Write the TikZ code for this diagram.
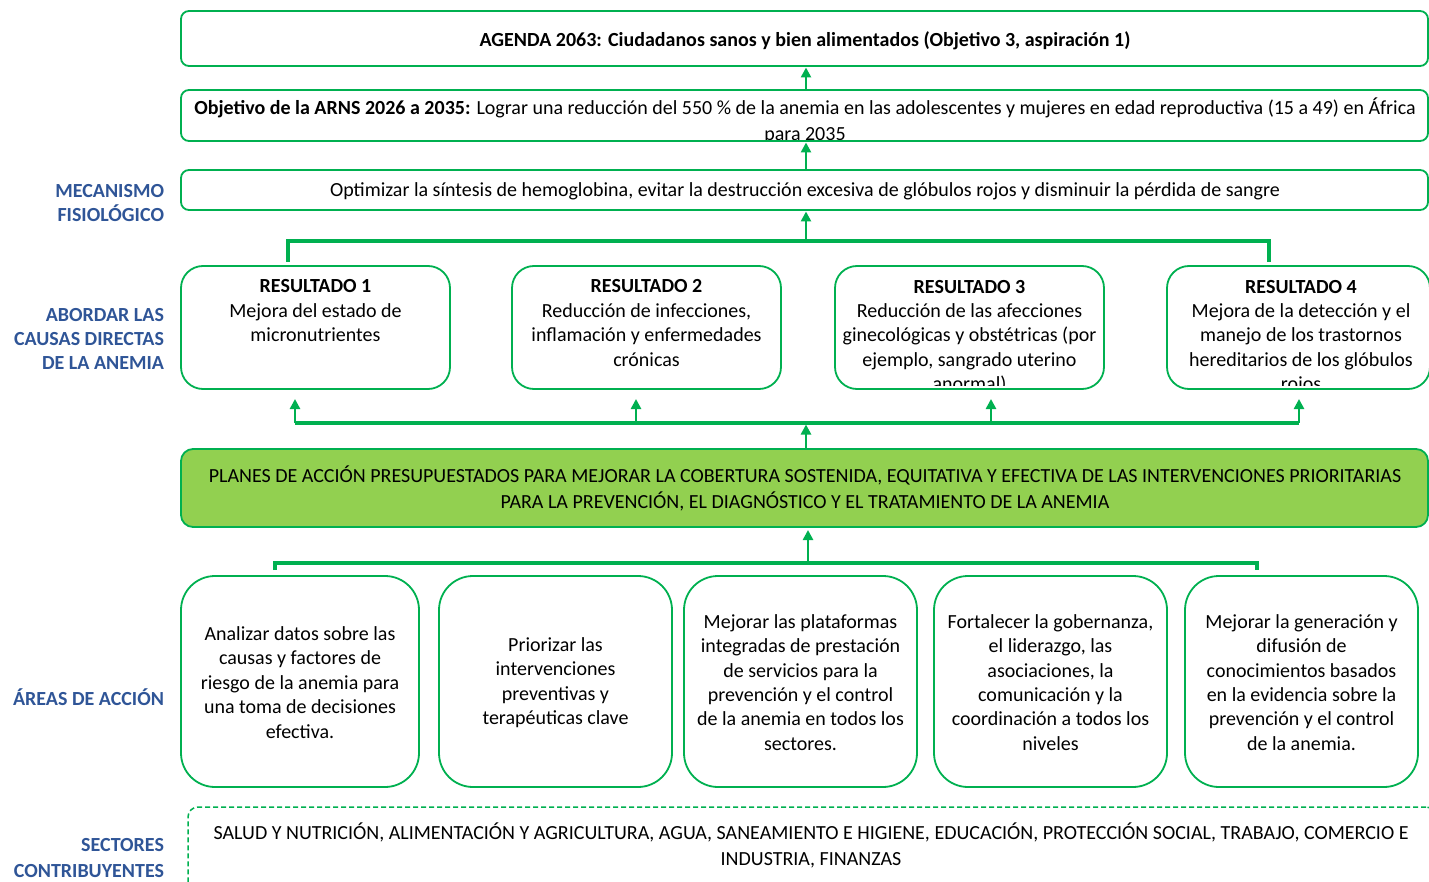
\documentclass[tikz,border=0pt]{standalone}
\usepackage{fontspec}
\setmainfont{Carlito}
\usetikzlibrary{arrows.meta,calc}
\definecolor{agreen}{HTML}{00B050}
\definecolor{lgreen}{HTML}{92D050}
\definecolor{lblue}{HTML}{2F5597}
\newcommand{\dfsz}{\fontsize{20}{24.4}\selectfont}
\begin{document}
\begin{tikzpicture}[x=1pt,y=-1pt,
  every node/.style={inner sep=0pt, outer sep=0pt},
  txt/.style={font=\dfsz, align=center},
  btxt/.style={font=\dfsz\bfseries, align=center},
  lbl/.style={font=\dfsz\bfseries, text=lblue, align=right, anchor=east},
  wbox/.style={draw=agreen, line width=1.8pt, rounded corners=8pt, fill=white},
  rbox/.style={draw=agreen, line width=1.8pt, rounded corners=22pt, minimum width=269pt, minimum height=123pt},
  abox/.style={draw=agreen, line width=1.8pt, rounded corners=34pt, minimum width=233pt, minimum height=211pt},
  pbox/.style={draw=agreen, line width=1.8pt, rounded corners=12pt, fill=lgreen, minimum width=1247pt, minimum height=78pt},
  sbox/.style={draw=agreen, line width=1.5pt, dash pattern=on 5pt off 3pt, rounded corners=10pt, minimum width=1248pt, minimum height=88pt},
  conn/.style={draw=agreen, line width=3.5pt},
  arr/.style={draw=agreen, line width=2.6pt, -{Triangle[width=10pt,length=10pt]}},
]
\useasboundingbox (0,0) rectangle (1429,882);

% ---------- top boxes ----------
\node[wbox, minimum width=1247pt, minimum height=55pt] (agenda) at (804.5,38.5) {};
\node[btxt, anchor=base] (agendat) at (805,46.5) {AGENDA 2063: Ciudadanos sanos y bien alimentados (Objetivo 3, aspiración 1)};

\node[wbox, minimum width=1247pt, minimum height=51pt] (obj) at (804.5,115.5) {};
\begin{scope}
  \clip (182,91) rectangle (1427,140);
  \node[txt, anchor=base] (objt) at (805,140.5) {\textbf{Objetivo de la ARNS 2026 a 2035:} Lograr una reducción del 550 \% de la anemia en las adolescentes y mujeres en edad reproductiva (15 a 49) en África\\[1.6pt] para 2035};
\end{scope}

\node[wbox, minimum width=1247pt, minimum height=40pt] (mec) at (804.5,190) {};
\node[txt, anchor=base] (mect) at (805,196.5) {Optimizar la síntesis de hemoglobina, evitar la destrucción excesiva de glóbulos rojos y disminuir la pérdida de sangre};

% ---------- resultados ----------
\node[rbox] (r1) at (315.5,327.5) {};
\node[rbox] (r2) at (646.5,327.5) {};
\node[rbox] (r3) at (969.5,327.5) {};
\node[rbox, minimum width=263pt] (r4) at (1298.5,327.5) {};

\node[txt, anchor=base] (r1t) at (315.5,341.8) {\textbf{RESULTADO 1}\\Mejora del estado de\\micronutrientes};
\node[txt, anchor=base] (r2t) at (646.5,366.2) {\textbf{RESULTADO 2}\\Reducción de infecciones,\\inflamación y enfermedades\\crónicas};
\begin{scope}
  \clip (836,267) rectangle (1103,385);
  \node[txt, anchor=base] (r3t) at (969.5,390.6) {\textbf{RESULTADO 3}\\Reducción de las afecciones\\ginecológicas y obstétricas (por\\ejemplo, sangrado uterino\\anormal)};
\end{scope}
\begin{scope}
  \clip (1168,267) rectangle (1428,385);
  \node[txt, anchor=base] (r4t) at (1301,390.6) {\textbf{RESULTADO 4}\\Mejora de la detección y el\\manejo de los trastornos\\hereditarios de los glóbulos\\rojos};
\end{scope}

% ---------- planes ----------
\node[pbox] (plan) at (804.5,488) {};
\node[txt, font=\fontsize{20}{26}\selectfont] (plant) at (805,488.5) {PLANES DE ACCIÓN PRESUPUESTADOS PARA MEJORAR LA COBERTURA SOSTENIDA, EQUITATIVA Y EFECTIVA DE LAS INTERVENCIONES PRIORITARIAS\\PARA LA PREVENCIÓN, EL DIAGNÓSTICO Y EL TRATAMIENTO DE LA ANEMIA};

% ---------- áreas de acción ----------
\node[abox, minimum width=238pt] (a1) at (300,681.5) {};
\node[abox] (a2) at (555.5,681.5) {};
\node[abox] (a3) at (800.5,681.5) {};
\node[abox] (a4) at (1050.5,681.5) {};
\node[abox] (a5) at (1301.5,681.5) {};
\node[txt] (a1t) at (300,682.5) {Analizar datos sobre las\\causas y factores de\\riesgo de la anemia para\\una toma de decisiones\\efectiva.};
\node[txt] (a2t) at (555.5,682.5) {Priorizar las\\intervenciones\\preventivas y\\terapéuticas clave};
\node[txt] (a3t) at (800.5,682.5) {Mejorar las plataformas\\integradas de prestación\\de servicios para la\\prevención y el control\\de la anemia en todos los\\sectores.};
\node[txt] (a4t) at (1050.5,682.5) {Fortalecer la gobernanza,\\el liderazgo, las\\asociaciones, la\\comunicación y la\\coordinación a todos los\\niveles};
\node[txt] (a5t) at (1301.5,682.5) {Mejorar la generación y\\difusión de\\conocimientos basados\\en la evidencia sobre la\\prevención y el control\\de la anemia.};

% ---------- sectores ----------
\node[sbox] (sect) at (812,851) {};
\node[txt, anchor=base, font=\fontsize{20}{26}\selectfont] (sectt) at (811,865) {SALUD Y NUTRICIÓN, ALIMENTACIÓN Y AGRICULTURA, AGUA, SANEAMIENTO E HIGIENE, EDUCACIÓN, PROTECCIÓN SOCIAL, TRABAJO, COMERCIO E\\INDUSTRIA, FINANZAS};

% ---------- left labels ----------
\node[lbl] (lmec) at (164,203) {MECANISMO\\FISIOLÓGICO};
\node[lbl] (lcau) at (164,339) {ABORDAR LAS\\CAUSAS DIRECTAS\\DE LA ANEMIA};
\node[lbl] (lare) at (164,697) {ÁREAS DE ACCIÓN};
\node[lbl, font=\fontsize{20}{26}\selectfont\bfseries] (lsec) at (164,858.5) {SECTORES\\CONTRIBUYENTES};

% ---------- connectors ----------
\coordinate (cx) at (806,0);
\draw[arr, shorten >=1.5pt] (obj.north -| cx) -- (agenda.south -| cx);
\draw[arr, shorten >=1.5pt] (mec.north -| cx) -- (obj.south -| cx);

% top bracket
\coordinate (tbl) at (288,241);
\coordinate (tbr) at (1269,241);
\coordinate (tbm) at (806,241);
\draw[conn, shorten <=4pt, shorten >=4pt] (tbl |- r1.north) -- (tbl) -- (tbr) -- (tbr |- r4.north);
\draw[arr, shorten >=1.5pt] (tbm) -- (mec.south -| tbm);

% bottom bracket (resultados)
\coordinate (bbl) at (295,423);
\coordinate (bbr) at (1299,423);
\coordinate (bbm) at (806,423);
\coordinate (bb2) at (636,423);
\coordinate (bb3) at (991,423);
\draw[conn] (bbl) -- (bbr);
\draw[arr, shorten >=10pt] (bbl) -- (bbl |- r1.south);
\draw[arr, shorten >=10pt] (bb2) -- (bb2 |- r2.south);
\draw[arr, shorten >=10pt] (bb3) -- (bb3 |- r3.south);
\draw[arr, shorten >=10pt] (bbr) -- (bbr |- r4.south);
\draw[arr] (plan.north -| bbm) -- ($(bbm)+(0,1.5)$);

% lower bracket (áreas)
\coordinate (lbl) at (275,563);
\coordinate (lbr) at (1257,563);
\coordinate (lbm) at (808,563);
\draw[conn, shorten <=6pt, shorten >=6pt] (lbl |- a1.north) -- (lbl) -- (lbr) -- (lbr |- a5.north);
\draw[arr, shorten >=3pt] (lbm) -- (plan.south -| lbm);
\end{tikzpicture}
\end{document}
